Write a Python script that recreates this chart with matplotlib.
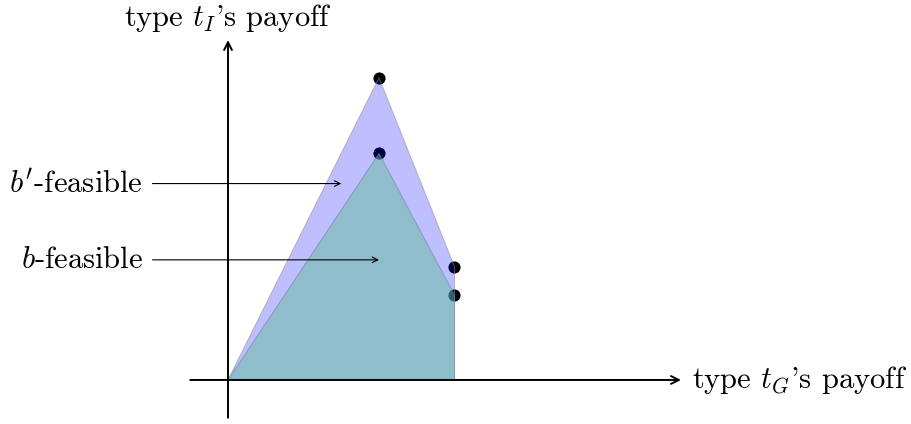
import matplotlib
matplotlib.use('Agg')
import matplotlib.pyplot as plt
from matplotlib.patches import Polygon

plt.rcParams['font.family'] = 'cmr10'
plt.rcParams['mathtext.fontset'] = 'cm'
plt.rcParams['axes.formatter.use_mathtext'] = True

# feasible sets (type t_G payoff, type t_I payoff)
bprime_x = [0, 2, 3, 3]
bprime_y = [0, 4, 1.5, 0]
b_x = [0, 2, 3, 3]
b_y = [0, 3, 1.125, 0]

# marked corner points
dots_x = [2, 3, 2, 3]
dots_y = [4, 1.5, 3, 1.125]

# label arrows: (text, y, arrow tip x)
labels = ["$b'$-feasible", "$b$-feasible"]
label_y = [2.6, 1.59]
label_tip = [1.5, 2.0]

fig = plt.figure(figsize=(9.12, 4.24), dpi=100)
ax = fig.add_axes([0, 0, 1, 1])
ax.set_xlim(-3.02, 9.06)
ax.set_ylim(-0.583, 5.03)
ax.axis('off')

# dots sit under the fills
ax.scatter(dots_x, dots_y, s=60, color='black', zorder=1)

ax.add_patch(Polygon(list(zip(bprime_x, bprime_y)), closed=True,
                     facecolor=(0.0, 0.0, 1.0, 0.25),
                     edgecolor=(0.55, 0.55, 0.55, 0.5), lw=0.8, zorder=2))
ax.add_patch(Polygon(list(zip(b_x, b_y)), closed=True,
                     facecolor=(0.39, 0.74, 0.6, 0.5),
                     edgecolor=(0.4, 0.45, 0.7, 0.45), lw=0.8, zorder=3))

# axes
ax.annotate('', xy=(6.0, 0), xytext=(-0.5, 0),
            arrowprops=dict(arrowstyle='->', lw=1.4, color='black',
                            shrinkA=0, shrinkB=0, mutation_scale=14), zorder=4)
ax.annotate('', xy=(0, 4.5), xytext=(0, -0.5),
            arrowprops=dict(arrowstyle='->', lw=1.4, color='black',
                            shrinkA=0, shrinkB=0, mutation_scale=14), zorder=4)
ax.text(6.15, 0, "type $t_G$'s payoff", fontsize=22, ha='left', va='center')
ax.text(0, 4.79, "type $t_I$'s payoff", fontsize=22, ha='center', va='center')

for txt, yy, tip in zip(labels, label_y, label_tip):
    ax.annotate('', xy=(tip, yy), xytext=(-1.0, yy),
                arrowprops=dict(arrowstyle='->', lw=0.8, color='black',
                                shrinkA=0, shrinkB=0, mutation_scale=10), zorder=5)
    ax.text(-1.13, yy, txt, fontsize=22, ha='right', va='center')

fig.savefig('out.png', dpi=100)
